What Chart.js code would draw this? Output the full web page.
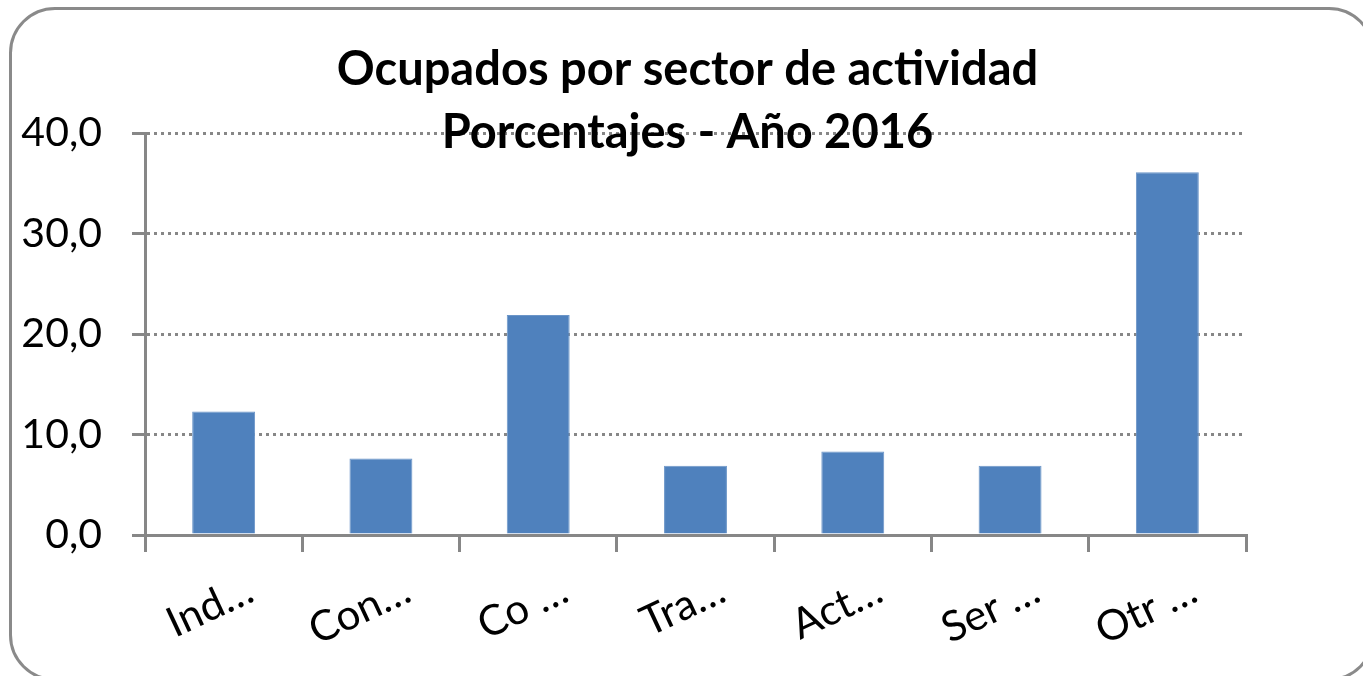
<!DOCTYPE html>
<html>
<head>
<meta charset="utf-8">
<script src="https://cdn.jsdelivr.net/npm/chart.js@4.4.1/dist/chart.umd.min.js"></script>
<style>
  html, body { margin: 0; padding: 0; background: #fff; }
  #wrap { position: relative; width: 1363px; height: 676px; overflow: hidden; }
  #frame { position: absolute; left: 9px; top: 7px; width: 1360px; height: 668px;
           border: 3px solid #8a8a8a; border-radius: 46px; pointer-events: none; }
  canvas { position: absolute; left: 0; top: 0; }
</style>
</head>
<body>
<div id="wrap">
  <canvas id="c" width="1363" height="676"></canvas>
  <div id="frame"></div>
</div>
<script>
const titleLines = ['Ocupados por sector de actividad', 'Porcentajes - Año 2016'];
const categories = ['Ind…', 'Con…', 'Co …', 'Tra…', 'Act…', 'Ser …', 'Otr …'];
const values = [12.3, 7.6, 21.9, 6.9, 8.3, 6.9, 36.1];
const yTicks = [0, 10, 20, 30, 40];

const FONT = 'Lato, "Open Sans", sans-serif';
const GRAY = '#878787';

new Chart(document.getElementById('c'), {
  type: 'bar',
  data: {
    labels: categories,
    datasets: [{
      data: values,
      backgroundColor: '#4F81BD',
      borderColor: '#6b95c8',
      borderWidth: 1,
      categoryPercentage: 1,
      barPercentage: 0.4
    }]
  },
  options: {
    responsive: false,
    animation: false,
    devicePixelRatio: 1,
    layout: { padding: { left: 12, right: 0, top: 0, bottom: 0 } },
    plugins: {
      legend: { display: false },
      tooltip: { enabled: false },
      title: {
        display: true,
        text: titleLines,
        color: '#000',
        font: { family: FONT, size: 47, weight: 'bold', lineHeight: 63 / 47 },
        padding: { top: 38.5, bottom: -31.5 }
      }
    },
    scales: {
      x: {
        afterFit: s => { s.height = 141; },
        grid: { drawOnChartArea: false, color: GRAY, lineWidth: 3, tickLength: 17, tickBorderDash: [] },
        border: { color: GRAY, width: 3 },
        ticks: {
          color: '#000',
          font: { family: FONT, size: 42 },
          minRotation: 25, maxRotation: 25,
          padding: 13,
          labelOffset: 27,
          autoSkip: false
        }
      },
      y: {
        min: yTicks[0], max: yTicks[yTicks.length - 1],
        afterFit: s => { s.width = 133; },
        grid: { color: GRAY, lineWidth: 3, tickLength: 13, tickBorderDash: [], tickColor: GRAY },
        border: { color: GRAY, width: 3, dash: [3, 4] },
        ticks: {
          stepSize: yTicks[1] - yTicks[0],
          color: '#000',
          font: { family: FONT, size: 41 },
          padding: 30,
          callback: v => v.toFixed(1).replace('.', ',')
        }
      },
      yRight: {
        position: 'right',
        afterFit: s => { s.width = 117; },
        grid: { display: false, drawTicks: false },
        border: { display: false },
        ticks: { display: false }
      }
    }
  }
});
</script>
</body>
</html>
